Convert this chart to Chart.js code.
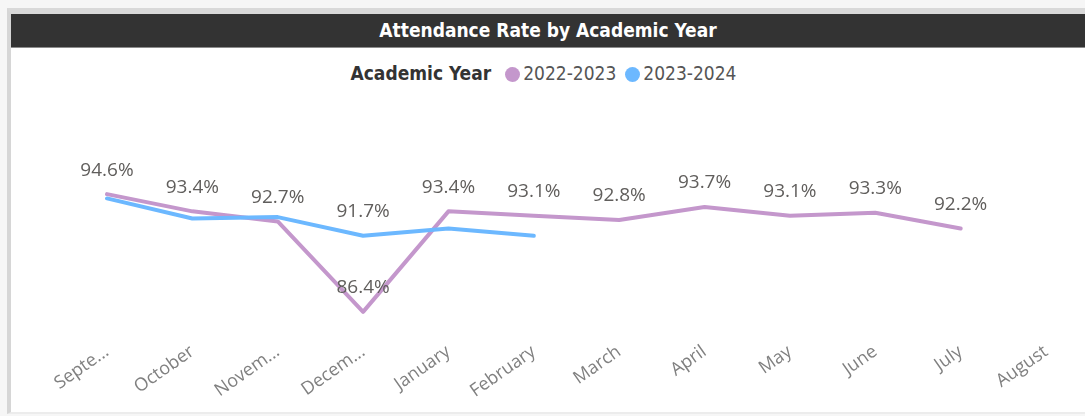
<!DOCTYPE html>
<html>
<head>
<meta charset="utf-8">
<script src="https://cdn.jsdelivr.net/npm/chart.js@4.4.1/dist/chart.umd.min.js"></script>
<style>
  html, body { margin:0; padding:0; background:#f6f6f6; }
  #wrap { position:relative; width:1085px; height:416px; overflow:hidden; }
  #frame { position:absolute; left:7px; top:8px; width:1078px; height:406px; background:#fff;
           border-left:4px solid #d6d6d6; border-top:6px solid #d9d9d9; border-bottom:2px solid #ececec; box-sizing:border-box; }
  #titlebar { position:absolute; left:11px; top:14px; width:1074px; height:34px; background:#333333;
              border-bottom:1px solid #8c8c8c; box-sizing:border-box;
              color:#fff; text-align:center; line-height:33px;
              font-family:"DejaVu Sans Condensed","Liberation Sans Narrow","DejaVu Sans",sans-serif; font-stretch:condensed;
              font-weight:bold; font-size:19px; }
  #legend { position:absolute; left:11px; top:62px; width:1074px; height:26px; text-align:center;
            font-family:"DejaVu Sans Condensed","Liberation Sans Narrow","DejaVu Sans",sans-serif; font-stretch:condensed;
            font-size:19px; color:#555; white-space:nowrap; }
  #legend .ttl { font-weight:bold; color:#333; margin-right:14px; }
  #legend .dot { display:inline-block; width:15px; height:15px; border-radius:50%; vertical-align:-2px; margin-right:3px; }
  #legend .item { margin-right:9px; }
  canvas { position:absolute; left:0; top:0; }
</style>
</head>
<body>
<div id="wrap">
  <div id="frame"></div>
  <div id="titlebar">Attendance Rate by Academic Year</div>
  <div id="legend"></div>
  <canvas id="c" width="1085" height="416"></canvas>
</div>
<script>
// ---- data ----
const categories = ["September","October","November","December","January","February","March","April","May","June","July","August"];
const tickLabels = ["Septe...","October","Novem...","Decem...","January","February","March","April","May","June","July","August"];
const seriesNames = ["2022-2023","2023-2024"];
const values2022 = [94.6, 93.4, 92.7, 86.4, 93.4, 93.1, 92.8, 93.7, 93.1, 93.3, 92.2, null];
const values2023 = [94.3, 92.9, 93.0, 91.7, 92.2, 91.7, null, null, null, null, null, null];
const showLabels2022 = [true,true,true,true,true,true,true,true,true,true,true,false];
const showLabels2023 = [false,false,false,true,false,false,false,false,false,false,false,false];
const colors = ["#C497CC", "#6CB8FF"];
const yMin = 85, yMax = 96;

// ---- legend ----
const lg = document.getElementById('legend');
let html = '<span class="ttl">Academic Year</span>';
seriesNames.forEach((n,i)=>{ html += '<span class="item"><span class="dot" style="background:'+colors[i]+'"></span>'+n+'</span>'; });
lg.innerHTML = html;

const labelFlags = [showLabels2022, showLabels2023];
const dataLabels = {
  id:'dataLabels',
  afterDatasetsDraw(chart){
    const ctx = chart.ctx;
    ctx.save();
    ctx.font = '19px "Open Sans","Noto Sans",sans-serif';
    ctx.fillStyle = '#605E5C';
    ctx.textAlign = 'center';
    ctx.textBaseline = 'middle';
    chart.data.datasets.forEach((ds, di)=>{
      const meta = chart.getDatasetMeta(di);
      meta.data.forEach((pt, i)=>{
        const v = ds.data[i];
        if (v == null || !labelFlags[di][i]) return;
        ctx.fillText(v.toFixed(1) + '%', pt.x, pt.y - 24);
      });
    });
    ctx.restore();
  }
};

new Chart(document.getElementById('c'), {
  type:'line',
  data:{
    labels: categories,
    datasets:[
      { label:seriesNames[0], data:values2022, borderColor:colors[0], backgroundColor:colors[0], borderWidth:4, pointRadius:0, tension:0, borderCapStyle:'round', borderJoinStyle:'round', order:2 },
      { label:seriesNames[1], data:values2023, borderColor:colors[1], backgroundColor:colors[1], borderWidth:4, pointRadius:0, tension:0, borderCapStyle:'round', borderJoinStyle:'round', order:1 }
    ]
  },
  options:{
    responsive:false, animation:false,
    layout:{ padding:{ left:107, right:39, top:174, bottom:0 } },
    plugins:{ legend:{display:false}, title:{display:false}, tooltip:{enabled:false} },
    scales:{
      x:{
        offset:false,
        grid:{display:false, drawTicks:false},
        border:{display:false},
        ticks:{
          autoSkip:false, maxRotation:35, minRotation:35, padding:9,
          color:'#808080', font:{ family:'"Open Sans","Noto Sans",sans-serif', size:18 },
          callback:(v,i)=>tickLabels[i]
        },
        afterFit(scale){ scale.paddingLeft = 0; scale.paddingRight = 0; scale.height = 84; }
      },
      y:{ display:false, min:yMin, max:yMax }
    }
  },
  plugins:[dataLabels]
});
</script>
</body>
</html>
